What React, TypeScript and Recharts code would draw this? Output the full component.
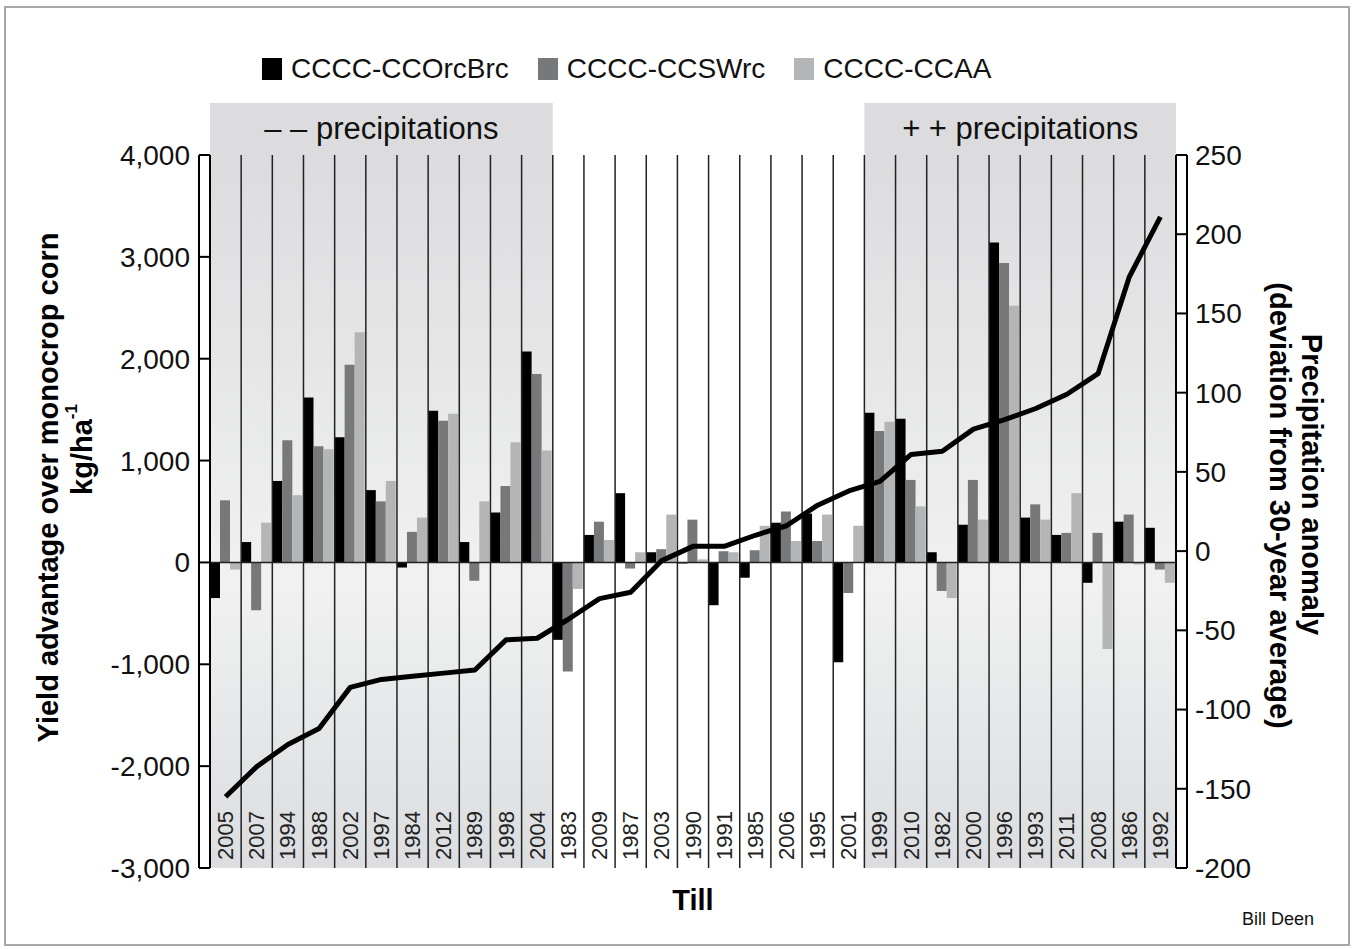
import React from 'react';
import { ComposedChart, Bar, Line, XAxis, YAxis, ReferenceArea, ReferenceLine, Legend } from 'recharts';

const FONT = '"Liberation Sans", Arial, sans-serif';

const YEARS = [
  '2005', '2007', '1994', '1988', '2002', '1997', '1984', '2012', '1989', '1998', '2004',
  '1983', '2009', '1987', '2003', '1990', '1991', '1985', '2006', '1995', '2001',
  '1999', '2010', '1982', '2000', '1996', '1993', '2011', '2008', '1986', '1992',
];

const ORC_BRC = [
  -350, 200, 800, 1620, 1230, 710, -50, 1490, 200, 490, 2070,
  -760, 270, 680, 100, -10, -420, -150, 390, 480, -980,
  1470, 1410, 100, 370, 3140, 440, 270, -200, 400, 340,
];
const SWRC = [
  610, -470, 1200, 1140, 1940, 600, 300, 1390, -180, 750, 1850,
  -1070, 400, -60, 130, 420, 110, 120, 500, 210, -300,
  1290, 810, -280, 810, 2940, 570, 290, 290, 470, -70,
];
const CCAA = [
  -70, 390, 660, 1110, 2260, 800, 440, 1460, 600, 1180, 1100,
  -260, 220, 100, 470, 30, 100, 360, 210, 470, 360,
  1380, 550, -350, 420, 2520, 420, 680, -850, -20, -200,
];
// precipitation anomaly (mm), right axis
const PRECIP = [
  -155, -136, -122, -112, -86, -81, -79, -77, -75, -56, -55,
  -43, -30, -26, -6, 3, 3, 10, 16, 29, 38,
  44, 61, 63, 77, 83, 90, 99, 112, 173, 211,
];

const SERIES = [
  { key: 'orc', name: 'CCCC-CCOrcBrc', color: '#000000' },
  { key: 'sw', name: 'CCCC-CCSWrc', color: '#77787a' },
  { key: 'aa', name: 'CCCC-CCAA', color: '#b4b5b7' },
];

const LEFT_TICKS = [-3000, -2000, -1000, 0, 1000, 2000, 3000, 4000];
const RIGHT_TICKS = [-200, -150, -100, -50, 0, 50, 100, 150, 200, 250];

const DRY = { from: '2005', to: '2004', label: '\u2013 \u2013 precipitations' };
const WET = { from: '1999', to: '1992', label: '+ + precipitations' };

const data = YEARS.map((year, i) => ({
  year,
  orc: ORC_BRC[i],
  sw: SWRC[i],
  aa: CCAA[i],
  precip: PRECIP[i],
}));

const fmt = (v: number) => v.toLocaleString('en-US');

const YearTick = ({ x, y, payload }: any) => (
  <text
    transform={`translate(${x},${y - 8}) rotate(-90)`}
    textAnchor="start"
    dominantBaseline="central"
    fontSize={22}
    fontFamily={FONT}
    fill="#222"
  >
    {payload.value}
  </text>
);

const shadedShape = (label: string) => (p: any) => (
  <g>
    <rect x={p.x} y={p.y} width={p.width} height={p.height} fill="url(#shade)" />
    <rect x={p.x} y={p.y - 52} width={p.width} height={52} fill="#dcdcde" />
    <text
      x={p.x + p.width / 2}
      y={p.y - 27}
      textAnchor="middle"
      dominantBaseline="central"
      fontSize={31}
      fontFamily={FONT}
      fill="#111"
    >
      {label}
    </text>
  </g>
);

const LeftTitle = ({ viewBox }: any) => {
  const { x, y, width, height } = viewBox;
  const right = x + width;
  return (
    <g>
      <line x1={right - 11} x2={right - 11} y1={y} y2={y + height} stroke="#000" strokeWidth={2} />
      <line x1={right - 11} x2={right} y1={y} y2={y} stroke="#000" strokeWidth={2} />
      <line x1={right - 11} x2={right} y1={y + height} y2={y + height} stroke="#000" strokeWidth={2} />
      <text transform={`translate(48,${y + height / 2 - 24}) rotate(-90)`} textAnchor="middle" dominantBaseline="central"
        fontSize={29} fontWeight="bold" fontFamily={FONT} fill="#000">
        Yield advantage over monocrop corn
      </text>
      <text transform={`translate(82,${y + height / 2 - 62}) rotate(-90)`} textAnchor="middle" dominantBaseline="central"
        fontSize={29} fontWeight="bold" fontFamily={FONT} fill="#000">
        kg/ha<tspan fontSize={17} dy={-11}>-1</tspan>
      </text>
    </g>
  );
};

const RightTitle = ({ viewBox }: any) => {
  const { x, y, height } = viewBox;
  return (
    <g>
      <line x1={x + 11} x2={x + 11} y1={y} y2={y + height} stroke="#000" strokeWidth={2} />
      <line x1={x} x2={x + 11} y1={y} y2={y} stroke="#000" strokeWidth={2} />
      <line x1={x} x2={x + 11} y1={y + height} y2={y + height} stroke="#000" strokeWidth={2} />
      <text transform={`translate(${x + 136},${y + height / 2 - 27}) rotate(90)`} textAnchor="middle" dominantBaseline="central"
        fontSize={29} fontWeight="bold" fontFamily={FONT} fill="#000">
        Precipitation anomaly
      </text>
      <text transform={`translate(${x + 104},${y + height / 2 - 6}) rotate(90)`} textAnchor="middle" dominantBaseline="central"
        fontSize={29} fontWeight="bold" fontFamily={FONT} fill="#000">
        (deviation from 30-year average)
      </text>
    </g>
  );
};

const BottomTitle = ({ viewBox }: any) => {
  const { x, y, width } = viewBox;
  return (
    <g>
      <text x={x + width / 2} y={y + 42} textAnchor="middle" fontSize={29} fontWeight="bold" fontFamily={FONT} fill="#000">
        Till
      </text>
      <text x={x + width + 102} y={y + 57} textAnchor="middle" fontSize={18} fontFamily={FONT} fill="#111">
        Bill Deen
      </text>
    </g>
  );
};

const LegendContent = () => (
  <div style={{ display: 'flex', alignItems: 'center', fontFamily: FONT, fontSize: 28, color: '#111' }}>
    {SERIES.map((s) => (
      <div key={s.key} style={{ display: 'flex', alignItems: 'center', marginRight: 29 }}>
        <span style={{ display: 'inline-block', width: 20, height: 22, background: s.color, marginRight: 9 }} />
        <span>{s.name}</span>
      </div>
    ))}
  </div>
);

export default function App() {
  return (
    <div style={{ position: 'absolute', left: 0, top: 0, width: 1354, height: 949, background: '#fff' }}>
      <div
        style={{
          position: 'absolute', left: 4, top: 6, width: 1342, height: 936,
          border: '2px solid #a8a8a8', boxSizing: 'content-box',
        }}
      />
      <div style={{ position: 'absolute', left: 0, top: 0 }}>
        <ComposedChart
          width={1354}
          height={949}
          data={data}
          margin={{ top: 155, right: 0, bottom: 0, left: 0 }}
          barCategoryGap={0}
          barGap={0}
        >
          <defs>
            <linearGradient id="shade" x1="0" y1="0" x2="0" y2="1">
              <stop offset="0%" stopColor="#dcdcde" />
              <stop offset="60%" stopColor="#f0f1f0" />
              <stop offset="100%" stopColor="#dcdde0" />
            </linearGradient>
          </defs>
          <XAxis
            dataKey="year"
            height={81}
            interval={0}
            axisLine={false}
            tickLine={false}
            tickSize={0}
            tickMargin={0}
            tick={<YearTick />}
            label={<BottomTitle />}
          />
          <YAxis
            yAxisId="left"
            width={210}
            domain={[-3000, 4000]}
            ticks={LEFT_TICKS}
            tickFormatter={fmt}
            tickSize={11}
            tickMargin={9}
            axisLine={{ stroke: '#000', strokeWidth: 2 }}
            tickLine={{ stroke: '#000', strokeWidth: 2 }}
            tick={{ fontSize: 28, fontFamily: FONT, fill: '#111' }}
            label={<LeftTitle />}
          />
          <YAxis
            yAxisId="right"
            orientation="right"
            width={178}
            domain={[-200, 250]}
            ticks={RIGHT_TICKS}
            tickSize={11}
            tickMargin={8}
            axisLine={{ stroke: '#000', strokeWidth: 2 }}
            tickLine={{ stroke: '#000', strokeWidth: 2 }}
            tick={{ fontSize: 28, fontFamily: FONT, fill: '#111' }}
            label={<RightTitle />}
          />
          <Legend
            layout="horizontal"
            verticalAlign="middle"
            align="center"
            wrapperStyle={{ top: 53, left: 262, width: 900, height: 30 }}
            content={<LegendContent />}
          />
          <ReferenceArea yAxisId="left" x1={DRY.from} x2={DRY.to} shape={shadedShape(DRY.label)} ifOverflow="visible" />
          <ReferenceArea yAxisId="left" x1={WET.from} x2={WET.to} shape={shadedShape(WET.label)} ifOverflow="visible" />
          {YEARS.map((y) => (
            <ReferenceLine key={`g-${y}`} yAxisId="left" x={y} position="start" stroke="#222" strokeWidth={1.5} />
          ))}
          <ReferenceLine yAxisId="left" x={YEARS[YEARS.length - 1]} position="end" stroke="#222" strokeWidth={1.5} />
          {SERIES.map((s) => (
            <Bar key={s.key} yAxisId="left" dataKey={s.key} name={s.name} fill={s.color} isAnimationActive={false} />
          ))}
          <ReferenceLine yAxisId="left" y={0} stroke="#222" strokeWidth={1.5} />
          <Line
            yAxisId="right"
            type="linear"
            dataKey="precip"
            stroke="#000"
            strokeWidth={5}
            strokeLinejoin="round"
            dot={false}
            isAnimationActive={false}
          />
        </ComposedChart>
      </div>
    </div>
  );
}
